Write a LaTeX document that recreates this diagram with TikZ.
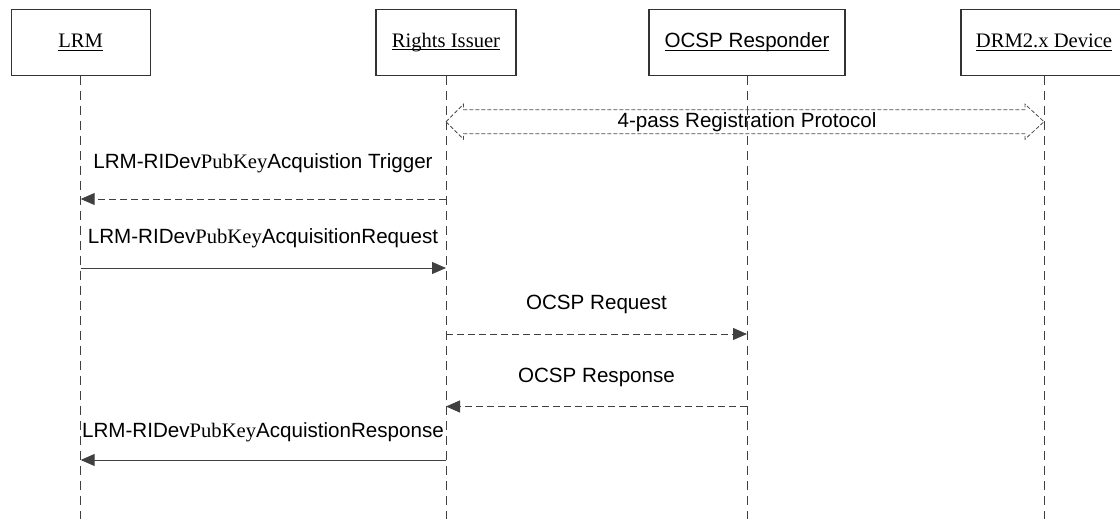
\documentclass[tikz,border=0pt]{standalone}
\usepackage{fontspec}
\setmainfont{Liberation Serif}
\newfontfamily\arialfont{Liberation Sans}
\usetikzlibrary{arrows.meta,calc}
\newsavebox{\ulbox}
\newcommand{\mylabelul}[1]{\sbox{\ulbox}{#1}\rlap{\rule[-2.8pt]{\wd\ulbox}{1pt}}\usebox{\ulbox}}
\begin{document}
\begin{tikzpicture}[x=1pt,y=-1pt,
  actor/.style={draw=black!80, line width=1.1pt, minimum height=66pt, inner sep=0pt,
    font=\fontsize{20.6}{24}\selectfont},
  lifeline/.style={draw=black!75, line width=1pt, dash pattern=on 9pt off 6pt},
  msgsolid/.style={draw=black!75, line width=1pt, -{Triangle[length=14pt,width=12pt]}},
  msgdash/.style={msgsolid, dash pattern=on 7pt off 4pt},
  hollow/.style={draw=black!70, line width=0.8pt, dash pattern=on 4pt off 2pt},
  lbl/.style={font=\arialfont\fontsize{20.6}{24}\selectfont, inner sep=0pt},
]
\useasboundingbox (0,0) rectangle (1120,519);

% actors
\node[actor, minimum width=139pt] (lrm)  at (80.7,42.4) {\mylabelul{LRM}};
\node[actor, minimum width=140pt] (ri)   at (446,42.4)  {\mylabelul{Rights Issuer}};
\node[actor, minimum width=196pt] (ocsp) at (747,42.4)  {\arialfont\mylabelul{OCSP Responder}};
\node[actor, minimum width=166pt] (drm)  at (1044,42.4) {\mylabelul{DRM2.x Device}};

% lifeline ends
\coordinate (lrmE)  at (lrm.south |- 0,519);
\coordinate (riE)   at (ri.south |- 0,519);
\coordinate (ocspE) at (ocsp.south |- 0,519);
\coordinate (drmE)  at (drm.south |- 0,519);
\draw[lifeline] (lrm.south) -- (lrmE);
\draw[lifeline] (ri.south) -- (riE);
\draw[lifeline] (ocsp.south) -- (ocspE);
\draw[lifeline] (drm.south) -- (drmE);

% 4-pass registration (hollow double arrow)
\coordinate (rA) at (ri.south |- 0,121.7);
\coordinate (dA) at (drm.south |- 0,121.7);
\draw[hollow] (rA) -- ++(17.5,-17.5) -- ++(0,5.5) -- ($(dA)+(-19,-12)$) -- ++(0,-5.5)
  -- (dA) -- ++(-19,17.5) -- ++(0,-5.5) -- ($(rA)+(17.5,12)$) -- ++(0,5.5) -- cycle;
\node[lbl] (reg) at (747,122) {4-pass Registration Protocol};

% messages
\coordinate (m1s) at (ri.south |- 0,199);
\coordinate (m1e) at (lrm.south |- 0,199);
\node[lbl] (m1l) at (263,163) {LRM-RIDev{\rmfamily PubKey}Acquistion Trigger};
\draw[msgdash] (m1s) -- (m1e);

\coordinate (m2s) at (lrm.south |- 0,268);
\coordinate (m2e) at (ri.south |- 0,268);
\node[lbl] (m2l) at (263,238) {LRM-RIDev{\rmfamily PubKey}AcquisitionRequest};
\draw[msgsolid] (m2s) -- (m2e);

\coordinate (m3s) at (ri.south |- 0,334);
\coordinate (m3e) at (ocsp.south |- 0,334);
\node[lbl] (m3l) at (596.5,304) {OCSP Request};
\draw[msgdash] (m3s) -- (m3e);

\coordinate (m4s) at (ocsp.south |- 0,406.5);
\coordinate (m4e) at (ri.south |- 0,406.5);
\node[lbl] (m4l) at (596.5,377) {OCSP Response};
\draw[msgdash] (m4s) -- (m4e);

\coordinate (m5s) at (ri.south |- 0,460);
\coordinate (m5e) at (lrm.south |- 0,460);
\node[lbl] (m5l) at (263,432) {LRM-RIDev{\rmfamily PubKey}AcquistionResponse};
\draw[msgsolid] (m5s) -- (m5e);
\end{tikzpicture}
\end{document}
